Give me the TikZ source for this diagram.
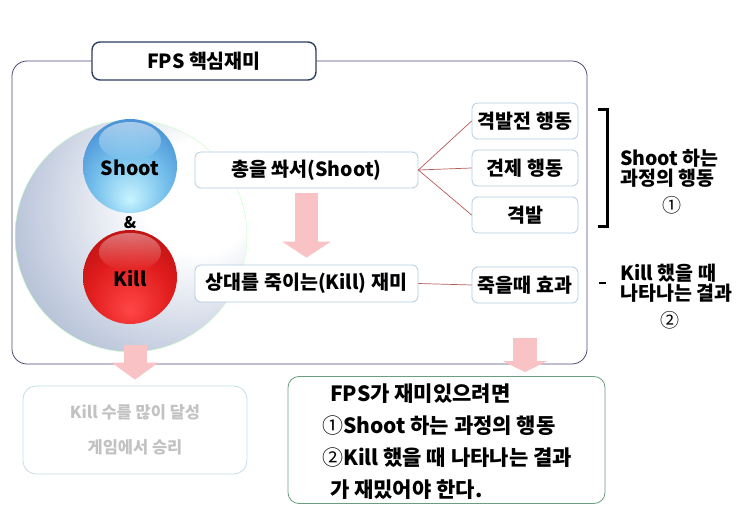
\documentclass[tikz,border=0pt]{standalone}
\usepackage{fontspec}
\setmainfont{Noto Sans CJK KR}
\usetikzlibrary{positioning,arrows.meta}
\definecolor{framecol}{HTML}{4A4A7A}
\definecolor{titlecol}{HTML}{2E3E62}
\definecolor{boxline}{HTML}{B4CCE0}
\definecolor{pinkarr}{HTML}{F9C2C4}
\definecolor{linkred}{HTML}{B45A5A}
\definecolor{greenline}{HTML}{6A9E80}
\definecolor{fadetext}{HTML}{C2C2C2}
\definecolor{fadeline}{HTML}{C4DCEA}
\definecolor{bgedge}{HTML}{7A8AAE}
\definecolor{bgmid}{HTML}{BAC5DA}
\definecolor{bluelight}{HTML}{C8F4FF}
\definecolor{bluemid}{HTML}{72BDEB}
\definecolor{bluedark}{HTML}{2A70C4}
\definecolor{blueedge}{HTML}{16448E}
\definecolor{redlight}{HTML}{FF4646}
\definecolor{redmid}{HTML}{E01C1C}
\definecolor{reddark}{HTML}{A00C0C}
\definecolor{rededge}{HTML}{5C0404}
\pgfdeclareradialshading{bgball}{\pgfpoint{18bp}{10bp}}{color(0bp)=(white); color(12bp)=(white); color(34bp)=(bgmid); color(66bp)=(bgedge)}
\pgfdeclareradialshading{blueball}{\pgfpoint{0bp}{-18bp}}{color(0bp)=(bluelight); color(20bp)=(bluemid); color(45bp)=(bluedark); color(66bp)=(blueedge)}
\pgfdeclareradialshading{redball}{\pgfpoint{0bp}{-18bp}}{color(0bp)=(redlight); color(22bp)=(redmid); color(46bp)=(reddark); color(66bp)=(rededge)}
\begin{document}
\begin{tikzpicture}[x=1pt,y=-1pt,
  rbox/.style={draw=boxline,fill=white,rounded corners=6pt,line width=0.8pt,
    minimum height=36pt,inner sep=0pt,font=\bfseries\fontsize{19.5}{19.5}\selectfont},
  note/.style={align=left,anchor=west,inner sep=0pt,font=\bfseries\fontsize{19.5}{20}\selectfont},
  num/.style={inner sep=0pt,font=\fontsize{19}{19}\selectfont},
  link/.style={linkred,line width=0.7pt},
  block/.style={pinkarr,line width=23pt}]
\useasboundingbox (0,0) rectangle (740,508);
% main frame and title
\draw[framecol,line width=0.8pt,rounded corners=15pt] (12,61) rectangle (587,364);
\node[draw=titlecol,fill=white,line width=1.4pt,rounded corners=8pt,minimum width=224pt,
  minimum height=38pt,font=\bfseries\fontsize{19.5}{19.5}\selectfont] (title) at (204,61) {FPS 핵심재미};
% shoot & kill
\shade[shading=bgball] (131,236) circle (116);
\draw[green!20!white,line width=0.5pt] (131,236) circle (116);
\shade[shading=blueball] (130,166) circle (47);
\shade[top color=white,bottom color=bluemid,fill opacity=0.5] (130,141) ellipse (31 and 19);
\shade[shading=redball] (130,277) circle (47);
\shade[top color=white,bottom color=redmid,fill opacity=0.4] (130,252) ellipse (31 and 19);
\node[font=\bfseries\fontsize{19.5}{19.5}\selectfont] (shoot) at (130,168) {Shoot};
\node[font=\bfseries\fontsize{16}{16}\selectfont] (amp) at (130,223) {\&};
\node[font=\bfseries\fontsize{19.5}{19.5}\selectfont] (kill) at (130,279) {Kill};
% process boxes
\node[rbox,minimum width=223pt] (shootbox) at (306.5,170) {총을 쏴서(Shoot)};
\node[rbox,minimum width=223pt,minimum height=37pt] (killbox) at (306.5,283.5) {상대를 죽이는(Kill) 재미};
\node[rbox,minimum width=106pt] (pre) at (525,121) {격발전 행동};
\node[rbox,minimum width=106pt] (check) at (525,168) {견제 행동};
\node[rbox,minimum width=106pt] (fire) at (525,215) {격발};
\node[rbox,minimum width=106pt] (effect) at (525,285) {죽을때 효과};
\draw[link] (shootbox.east) -- (pre.west);
\draw[link] (shootbox.east) -- (check.west);
\draw[link] (shootbox.east) -- (fire.west);
\draw[link] (killbox.east) -- (effect.west);
\draw[block,-{Triangle[width=48pt,length=16pt]}] ([yshift=-5pt]shootbox.south) -- ([yshift=7pt]killbox.north);
% notes on the right
\draw[line width=3pt] (598,110) -- (607,110) -- (607,227) -- (598,227);
\node[note] (shootnote) at (620,168) {Shoot 하는\\과정의 행동};
\node[num] (one) at (672,205) {①};
\draw[line width=2.5pt] (599,283) -- (606,283);
\node[note] (killnote) at (620,283) {Kill 했을 때\\나타나는 결과};
\node[num] (two) at (670,320) {②};
% results below
\node[draw=fadeline,line width=0.8pt,rounded corners=13pt,minimum width=224pt,minimum height=88pt,
  text=fadetext,align=center,font=\bfseries\fontsize{16.5}{35}\selectfont] (score) at (135,430)
  {Kill 수를 많이 달성\\게임에서 승리};
\node[draw=greenline,line width=0.8pt,rounded corners=11pt,minimum width=317pt,minimum height=127pt] (sum) at (446.5,440) {};
\node[anchor=west,align=left,inner sep=0pt,font=\bfseries\fontsize{21}{32}\selectfont] (sumtext) at (322,442)
  {\hspace*{8pt}FPS가 재미있으려면\\{\mdseries ①}Shoot 하는 과정의 행동\\{\mdseries ②}Kill 했을 때 나타나는 결과\\\hspace*{8pt}가 재밌어야 한다.};
\coordinate (leftout) at (135,345);
\coordinate (rightout) at (525,338);
\coordinate (leftin) at (leftout |- score.north);
\coordinate (rightin) at (rightout |- sum.north);
\draw[block,-{Triangle[width=46pt,length=17pt]}] (leftout) -- ([yshift=6pt]leftin);
\draw[block,line width=24pt,-{Triangle[width=44pt,length=11pt]}] (rightout) -- ([yshift=4pt]rightin);
\end{tikzpicture}
\end{document}
